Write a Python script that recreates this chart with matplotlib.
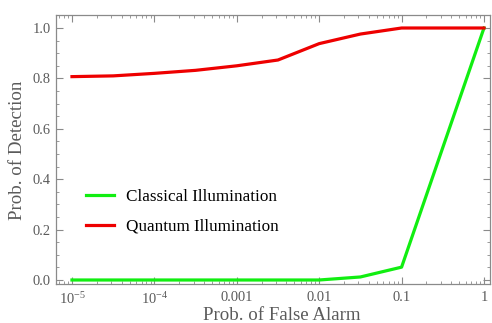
import numpy as np
import matplotlib
matplotlib.use('Agg')
from matplotlib import pyplot as plt
from matplotlib.ticker import FixedLocator, LogLocator, MultipleLocator, NullFormatter

# probabilita di falso allarme (asse x) e curve di rivelazione
p_fa = [1e-5, 10**-4.5, 1e-4, 10**-3.5, 1e-3, 10**-2.5, 1e-2, 10**-1.5, 1e-1, 1.0]
p_d_classical = [0.0, 0.0, 0.0, 0.0, 0.0, 0.0, 0.0, 0.012, 0.051, 1.0]
p_d_quantum = [0.807, 0.810, 0.820, 0.832, 0.850, 0.873, 0.938, 0.976, 1.0, 1.0]

x_ticks = [1e-5, 1e-4, 1e-3, 1e-2, 1e-1, 1.0]
x_tick_labels = ['10$^{\\mathregular{-5}}$', '10$^{\\mathregular{-4}}$', '0.001', '0.01', '0.1', '1']
y_ticks = [0.0, 0.2, 0.4, 0.6, 0.8, 1.0]
y_tick_labels = ['0.0', '0.2', '0.4', '0.6', '0.8', '1.0']

plt.rcParams['font.family'] = ['Liberation Serif', 'DejaVu Serif']
plt.rcParams['mathtext.fontset'] = 'custom'
plt.rcParams['mathtext.rm'] = 'Liberation Serif'
plt.rcParams['mathtext.it'] = 'Liberation Serif:italic'

W, H = 492, 323
fig = plt.figure(figsize=(W / 100, H / 100), dpi=100)
ax = fig.add_axes([56 / W, 1 - 284 / H, (490 - 56) / W, (284 - 15) / H])

frame_col = '#8a8a8a'
label_col = '#5a5a5a'

ax.plot(p_fa, p_d_classical, color='#11ee11', lw=2.3, label='Classical Illumination')
ax.plot(p_fa, p_d_quantum, color='#ee0000', lw=2.3, label='Quantum Illumination')

ax.set_xscale('log')
ax.set_xlim(10**-5.194, 10**0.073)
ax.set_ylim(-0.0159, 1.0516)

ax.xaxis.set_major_locator(FixedLocator(x_ticks))
ax.set_xticklabels(x_tick_labels)
ax.xaxis.set_minor_locator(LogLocator(base=10, subs=np.arange(2, 10)))
ax.xaxis.set_minor_formatter(NullFormatter())
ax.yaxis.set_major_locator(FixedLocator(y_ticks))
ax.set_yticklabels(y_tick_labels)
ax.yaxis.set_minor_locator(MultipleLocator(0.05))

for s in ax.spines.values():
    s.set_color(frame_col)
    s.set_linewidth(0.9)

ax.tick_params(which='both', direction='in', top=True, right=True,
               color=frame_col, labelcolor=label_col, labelsize=10.4)
ax.tick_params(which='major', length=5, width=0.8, pad=4)
ax.tick_params(which='minor', length=2.5, width=0.6)
ax.tick_params(axis='x', which='major', pad=5)

# etichette degli assi
fig.text(282 / W, 1 - 320 / H, 'Prob. of False Alarm', color=label_col, fontsize=13.6,
         ha='center', va='baseline')
fig.text(18 / W, 1 - 150 / H, 'Prob. of Detection', color=label_col, fontsize=13.6,
         ha='center', va='center', rotation=90)

leg = ax.legend(loc='upper left', bbox_to_anchor=(86 / W, 1 - 189 / H),
                bbox_transform=fig.transFigure, frameon=False, fontsize=12.3,
                handlelength=1.64, handletextpad=0.7, labelspacing=0.8,
                borderpad=0, borderaxespad=0)

fig.savefig('out.png', dpi=100)
